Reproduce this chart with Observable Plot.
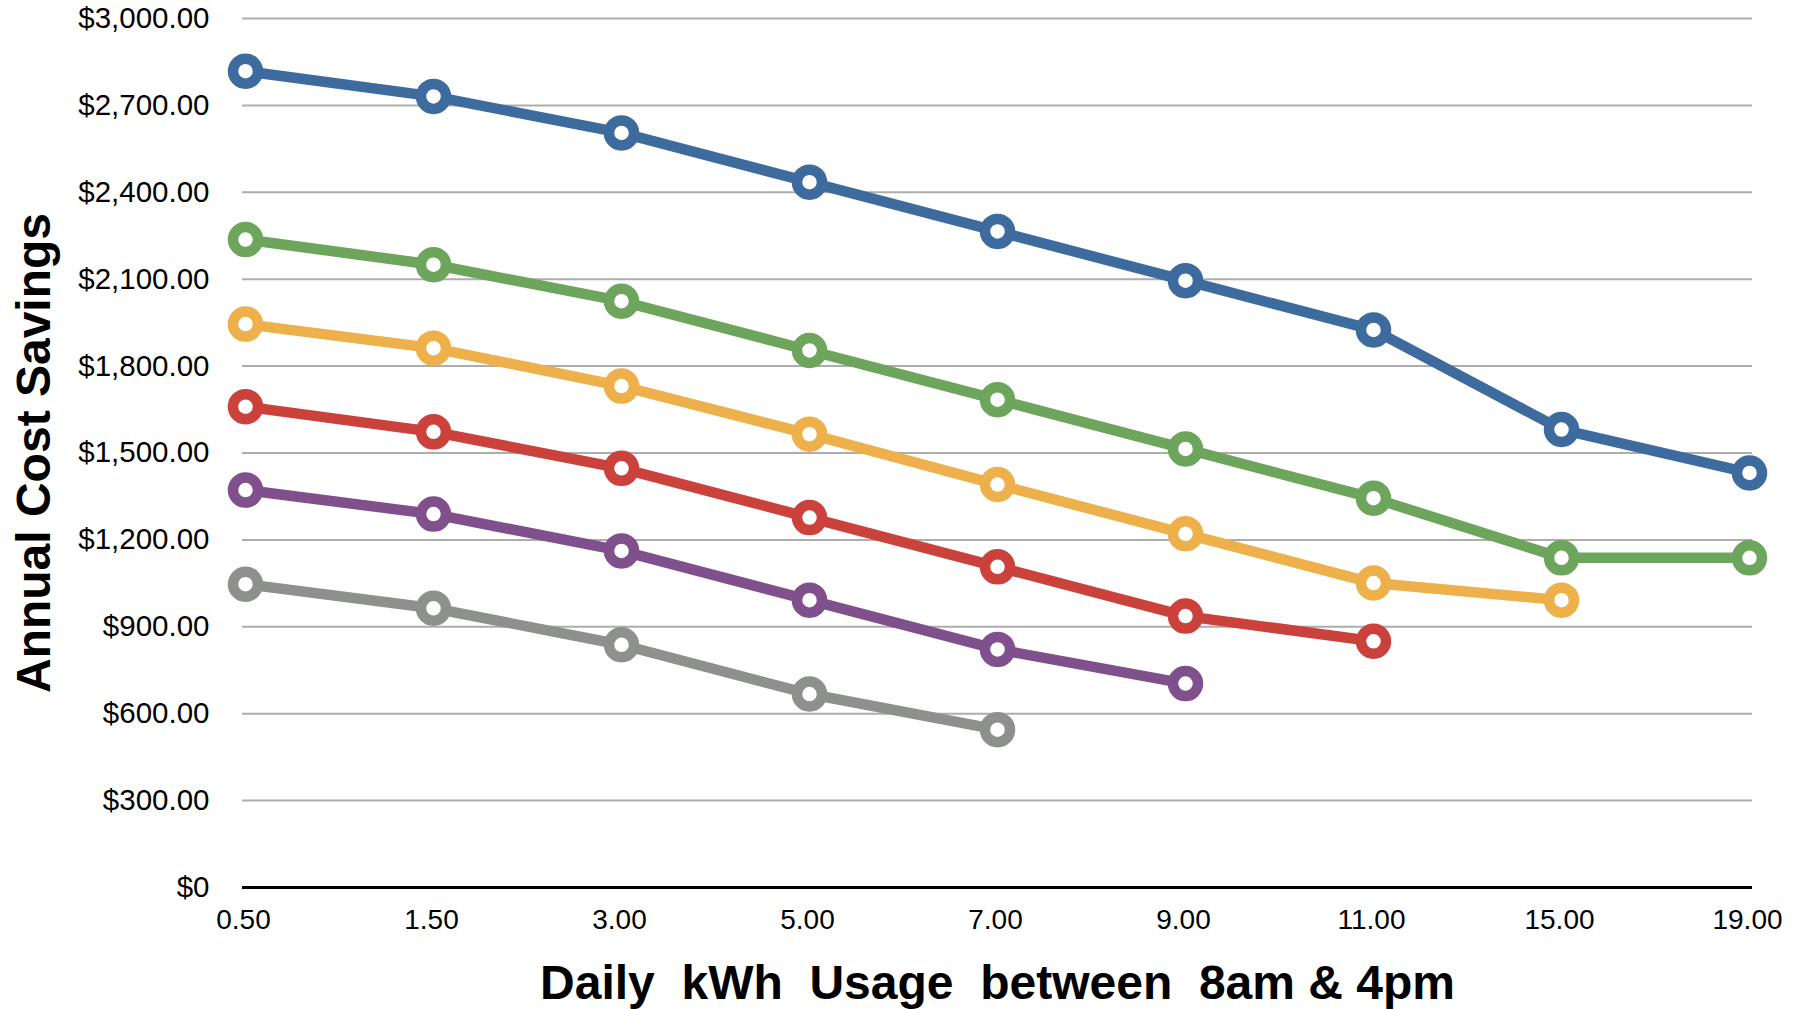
<!DOCTYPE html>
<html>
<head>
<meta charset="utf-8">
<script src="https://cdn.jsdelivr.net/npm/d3@7"></script>
<script src="https://cdn.jsdelivr.net/npm/@observablehq/plot@0.6"></script>
<style>
  html, body { margin: 0; padding: 0; background: #ffffff; }
  #chart { width: 1796px; height: 1009px; }
</style>
</head>
<body>
<div id="chart"></div>
<script>
// Category labels (x axis)
const categories = ["0.50", "1.50", "3.00", "5.00", "7.00", "9.00", "11.00", "15.00", "19.00"];

// Series values (annual cost savings, $)
const seriesNames = ["Series 1", "Series 2", "Series 3", "Series 4", "Series 5", "Series 6"];
const seriesBlue   = [2818, 2731, 2605, 2435, 2265, 2095, 1925, 1581, 1431];
const seriesGreen  = [2237, 2150, 2024, 1854, 1684, 1514, 1344, 1138, 1138];
const seriesYellow = [1945, 1862, 1731, 1565, 1391, 1221, 1051, 992];
const seriesRed    = [1660, 1573, 1447, 1277, 1107, 937, 850];
const seriesPurple = [1372, 1289, 1162, 992, 822, 704];
const seriesGray   = [1047, 964, 838, 668, 545];
const seriesColors = ["#3d6b9e", "#6ca55b", "#eeb04b", "#cb423c", "#7f508b", "#8e908e"];

// Y tick values
const yTicks = [0, 300, 600, 900, 1200, 1500, 1800, 2100, 2400, 2700, 3000];

const xTitle = "Daily\u00a0 kWh\u00a0 Usage\u00a0 between\u00a0 8am & 4pm";
const yTitle = "Annual Cost Savings";

const allSeries = [seriesBlue, seriesGreen, seriesYellow, seriesRed, seriesPurple, seriesGray];
const rows = allSeries.flatMap((vals, s) =>
  vals.map((v, i) => ({cat: categories[i], value: v, series: seriesNames[s]}))
);

const fmt = d => d === 0 ? "$0" : "$" + d3.format(",.2f")(d);
const font = "'Liberation Sans', Arial, Helvetica, sans-serif";

const chart = Plot.plot({
  width: 1796,
  height: 1009,
  marginTop: 18,
  marginBottom: 122,
  marginLeft: 242,
  marginRight: 44,
  style: {fontFamily: font, fontSize: "28px", color: "#000", background: "#fff", overflow: "visible"},
  x: {type: "point", domain: categories, padding: 0, label: null},
  y: {domain: [0, 3000], label: null},
  color: {domain: seriesNames, range: seriesColors},
  marks: [
    Plot.ruleY(yTicks.filter(d => d > 0), {stroke: "#adadad", strokeWidth: 2}),
    Plot.ruleY([0], {stroke: "#000", strokeWidth: 3}),
    Plot.axisY(yTicks, {tickSize: 0, tickPadding: 33, tickFormat: fmt, fontSize: 29.5, label: null}),
    Plot.axisX(categories, {tickSize: 0, tickPadding: 22, fontSize: 28, dx: -2, label: null}),
    Plot.line(rows, {x: "cat", y: "value", z: "series", stroke: "series", strokeWidth: 10.5, strokeLinejoin: "round"}),
    Plot.dot(rows, {x: "cat", y: "value", stroke: "series", fill: "#fff", r: 12.5, strokeWidth: 10.5}),
    Plot.text([xTitle], {frameAnchor: "bottom", dy: 96, lineAnchor: "middle", fontSize: 48, fontWeight: "bold", fill: "#000"}),
    Plot.text([yTitle], {frameAnchor: "left", dx: -208, rotate: -90, lineAnchor: "middle", textAnchor: "middle", fontSize: 48, fontWeight: "bold", fill: "#000"})
  ]
});

document.getElementById("chart").appendChild(chart);
</script>
</body>
</html>
